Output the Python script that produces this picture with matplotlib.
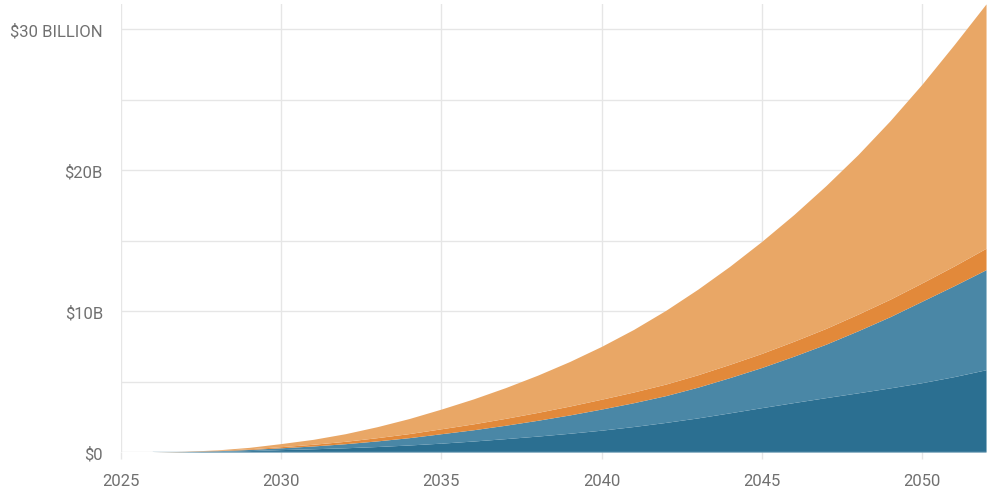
import matplotlib
matplotlib.use("Agg")
import matplotlib.pyplot as plt
from matplotlib.ticker import FixedLocator

years = list(range(2026, 2053))
# cumulative tops of each stacked layer, billions of dollars
dark_blue_top = [0.0, 0.02, 0.05, 0.10, 0.17, 0.23, 0.30, 0.39, 0.50, 0.63,
                 0.78, 0.95, 1.13, 1.33, 1.55, 1.81, 2.10, 2.42, 2.78, 3.15,
                 3.51, 3.86, 4.20, 4.55, 4.92, 5.35, 5.84]
light_blue_top = [0.0, 0.03, 0.09, 0.18, 0.30, 0.43, 0.59, 0.79, 1.02, 1.30,
                  1.58, 1.90, 2.25, 2.63, 3.05, 3.50, 4.00, 4.60, 5.28, 6.00,
                  6.80, 7.65, 8.60, 9.60, 10.70, 11.80, 12.94]
dark_orange_top = [0.0, 0.04, 0.12, 0.23, 0.38, 0.55, 0.76, 1.02, 1.31, 1.65,
                   2.00, 2.39, 2.81, 3.26, 3.75, 4.26, 4.82, 5.48, 6.22, 7.00,
                   7.86, 8.77, 9.78, 10.84, 12.00, 13.20, 14.46]
light_orange_top = [0.0, 0.05, 0.15, 0.33, 0.60, 0.90, 1.30, 1.80, 2.38, 3.05,
                    3.77, 4.57, 5.45, 6.42, 7.50, 8.70, 10.05, 11.55, 13.18, 14.95,
                    16.85, 18.90, 21.10, 23.50, 26.10, 28.90, 31.80]

x_ticks = [2025, 2030, 2035, 2040, 2045, 2050]
y_ticks = [0, 10, 20, 30]
y_labels = ["$0", "$10B", "$20B", "$30 BILLION"]
y_grid = [0, 5, 10, 15, 20, 25, 30]

colors = ["#2b6f91", "#4a87a6", "#e2893a", "#e9a766"]

fig = plt.figure(figsize=(9.96, 4.89), dpi=100)
ax = fig.add_axes([0.1215, 0.0736, 0.8685, 0.9164])

zero = [0.0] * len(years)
layers = [zero, dark_blue_top, light_blue_top, dark_orange_top, light_orange_top]
for i in range(4):
    ax.fill_between(years, layers[i], layers[i + 1], color=colors[i],
                    linewidth=0, zorder=2)
ax.plot(years, zero, color="#8db4cc", linewidth=1.0, zorder=3)

ax.set_xlim(2025, 2052)
ax.set_ylim(0, 31.8)

ax.xaxis.set_major_locator(FixedLocator(x_ticks))
ax.set_xticklabels([str(t) for t in x_ticks])
ax.yaxis.set_major_locator(FixedLocator(y_ticks))
ax.set_yticklabels(y_labels)

for g in y_grid:
    ax.axhline(g, color="#e6e6e6", linewidth=1.0, zorder=1)
for t in x_ticks:
    ax.axvline(t, color="#e6e6e6", linewidth=1.0, zorder=1)

for s in ax.spines.values():
    s.set_visible(False)

ax.tick_params(axis="y", length=0, pad=13, labelsize=12, labelcolor="#707070")
ax.tick_params(axis="x", length=5, width=1, color="#e6e6e6", pad=10,
               labelsize=12, labelcolor="#707070")
for lab in ax.get_xticklabels() + ax.get_yticklabels():
    lab.set_fontfamily("Roboto")

fig.savefig("out.png", dpi=100)
